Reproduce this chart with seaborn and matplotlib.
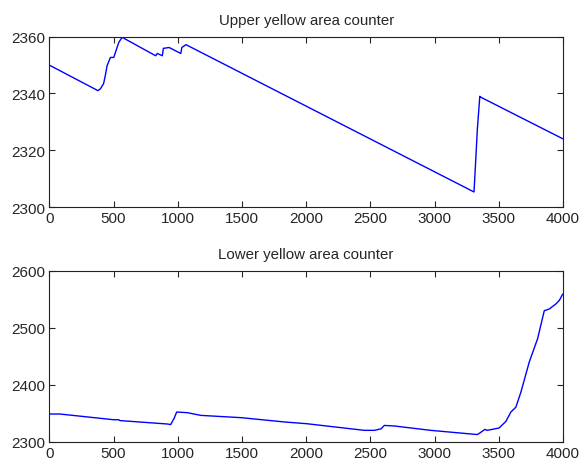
import matplotlib
matplotlib.use('Agg')
import matplotlib.pyplot as plt
import seaborn as sns
import pandas as pd

# dados
upper_x = [0, 379, 397, 423, 436, 450, 476, 502, 515, 541, 567, 828, 841, 880, 888, 933, 1024, 1032, 1064,
           3307, 3315, 3333, 3352, 3359, 4000]
upper_y = [2350, 2341, 2341.6, 2343.5, 2346.3, 2349.8, 2352.7, 2352.7, 2354.5, 2358, 2359.8, 2353.3, 2354.1,
           2353.3, 2355.9, 2356.2, 2354.1, 2356.2, 2357.2, 2305.3, 2312, 2327.5, 2339, 2338.7, 2324]

lower_x = [0, 83, 500, 540, 550, 919, 945, 971, 992, 1076, 1180, 1494, 1834, 2005, 2453, 2531, 2583, 2609,
           2688, 2969, 3333, 3354, 3391, 3411, 3502, 3555, 3594, 3633, 3672, 3737, 3802, 3854, 3893, 3945,
           3971, 3997]
lower_y = [2349, 2349, 2339, 2339, 2337.5, 2331.5, 2330.5, 2341, 2352.5, 2351.3, 2346.6, 2342.6, 2335, 2332,
           2320.4, 2320.4, 2323, 2329, 2328, 2320.4, 2313, 2316, 2322, 2320.4, 2324.5, 2336, 2352.5, 2361,
           2387.4, 2440, 2481, 2530, 2533, 2542, 2548, 2559]

titulos = ['Upper yellow area counter', 'Lower yellow area counter']

sns.set_style('ticks')
plt.rcParams['font.family'] = ['Liberation Sans', 'DejaVu Sans']

fig = plt.figure(figsize=(5.82, 4.64), dpi=100)
ax1 = fig.add_axes([0.0847, 0.5517, 0.8827, 0.367])
ax2 = fig.add_axes([0.0847, 0.0453, 0.8827, 0.369])

df_up = pd.DataFrame({'x': upper_x, 'y': upper_y})
df_lo = pd.DataFrame({'x': lower_x, 'y': lower_y})

sns.lineplot(data=df_up, x='x', y='y', ax=ax1, color='#0000ff', linewidth=1, sort=False)
sns.lineplot(data=df_lo, x='x', y='y', ax=ax2, color='#0000ff', linewidth=1, sort=False)

ax1.set_ylim(2300, 2360)
ax1.set_yticks([2300, 2320, 2340, 2360])
ax2.set_ylim(2300, 2600)
ax2.set_yticks([2300, 2400, 2500, 2600])

for ax, t in zip([ax1, ax2], titulos):
    ax.set_xlim(0, 4000)
    ax.set_xticks(range(0, 4001, 500))
    ax.set_xlabel('')
    ax.set_ylabel('')
    ax.set_title(t, fontsize=10.8, pad=9)
    ax.tick_params(direction='in', top=True, right=True, labelsize=11, length=4, width=0.8, pad=3)
    for s in ax.spines.values():
        s.set_visible(True)
        s.set_linewidth(0.8)
        s.set_color('#222222')

fig.savefig('out.png', dpi=100, facecolor='white')
